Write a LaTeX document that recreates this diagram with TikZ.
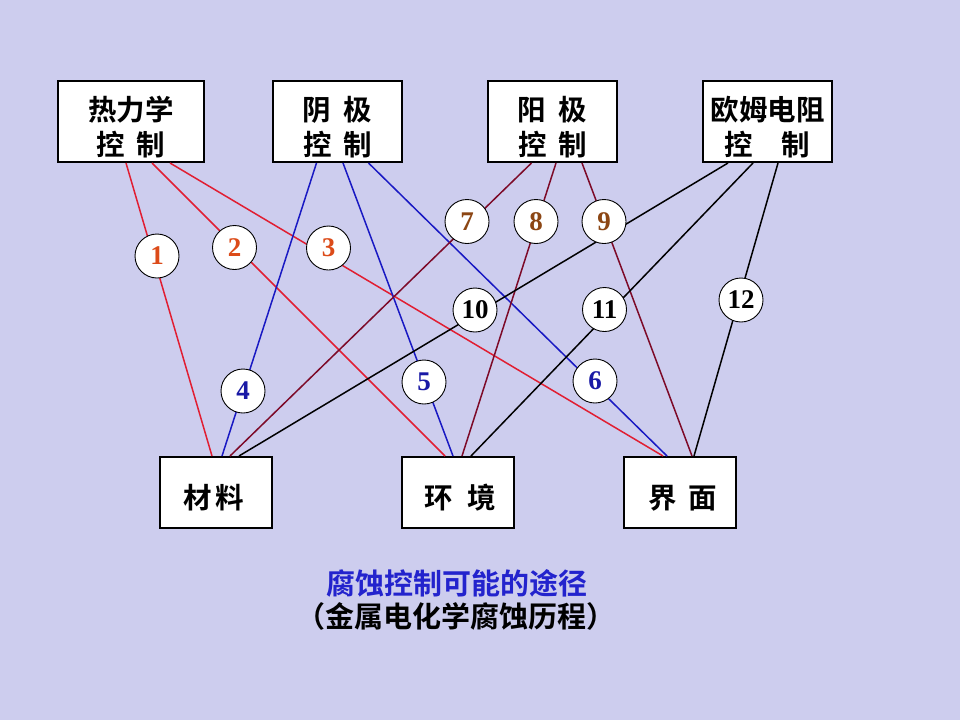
\documentclass[tikz,border=0pt]{standalone}
\usepackage{fontspec}
\setmainfont{Liberation Serif}
\newfontfamily\cjk{Noto Sans CJK SC Bold}
\definecolor{bgc}{RGB}{205,205,238}
\definecolor{cred}{RGB}{225,30,50}
\definecolor{cblue}{RGB}{25,25,195}
\definecolor{cmaroon}{RGB}{125,10,40}
\definecolor{nred}{RGB}{220,75,25}
\definecolor{nblue}{RGB}{25,25,165}
\definecolor{nbrown}{RGB}{140,70,20}
\definecolor{capblue}{RGB}{35,35,205}
\begin{document}
\begin{tikzpicture}[x=1pt,y=-1pt,
  boxshape/.style={draw=black,line width=2pt,fill=white,inner sep=0pt},
  topbox/.style={boxshape,minimum width=129pt,minimum height=81pt},
  botbox/.style={boxshape,minimum width=112pt,minimum height=71pt},
  boxtext/.style={inner sep=0pt,align=center,font=\cjk\fontsize{28.5}{35}\selectfont},
  numc/.style={circle,draw=black,line width=0.9pt,fill=white,minimum size=44pt,inner sep=0pt,font=\bfseries\fontsize{27}{27}\selectfont},
  redline/.style={draw=cred,line width=1.5pt},
  blueline/.style={draw=cblue,line width=1.5pt},
  maroonline/.style={draw=cmaroon,line width=1.5pt},
  blackline/.style={draw=black,line width=1.5pt},
  captext/.style={inner sep=0pt,font=\cjk\fontsize{29}{33}\selectfont}]
\fill[bgc] (0,0) rectangle (960,720);
\useasboundingbox (0,0) rectangle (960,720);
% top boxes
\node[topbox,minimum width=146pt] (th) at (131,121.5) {};
\node[topbox] (ca) at (337.5,121.5) {};
\node[topbox] (an) at (552.5,121.5) {};
\node[topbox] (oh) at (767.5,121.5) {};
\node[boxtext] (thT) at (131,127.5) {热力学\\控\hspace{0.42em}制};
\node[boxtext] (caT) at (337.5,127.5) {阴\hspace{0.45em}极\\控\hspace{0.42em}制};
\node[boxtext] (anT) at (552.5,127.5) {阳\hspace{0.45em}极\\控\hspace{0.42em}制};
\node[boxtext] (ohT) at (767.5,127.5) {欧姆电阻\\控\hspace{1em}制};
% bottom boxes
\node[botbox] (ma) at (216,492.5) {};
\node[botbox] (en) at (458,492.5) {};
\node[botbox] (if) at (680,492.5) {};
\node[boxtext] (maT) at (214,498) {材\hspace{0.12em}料};
\node[boxtext] (enT) at (460,498) {环\hspace{0.5em}境};
\node[boxtext] (ifT) at (683,498) {界\hspace{0.4em}面};
% connectors
\draw[redline] ([xshift=-5pt]th.south) -- ([xshift=-4pt]ma.north);
\draw[redline] ([xshift=21pt]th.south) -- ([xshift=-13pt]en.north);
\draw[redline] ([xshift=39pt]th.south) -- ([xshift=-17pt]if.north);
\draw[blueline] ([xshift=-21pt]ca.south) -- ([xshift=6pt]ma.north);
\draw[blueline] ([xshift=5.5pt]ca.south) -- ([xshift=-5pt]en.north);
\draw[blueline] ([xshift=31pt]ca.south) -- ([xshift=-13pt]if.north);
\draw[maroonline] ([xshift=-21pt]an.south) -- ([xshift=14pt]ma.north);
\draw[maroonline] ([xshift=3.5pt]an.south) -- ([xshift=4pt]en.north);
\draw[maroonline] ([xshift=29.5pt]an.south) -- ([xshift=12pt]if.north);
\draw[blackline] ([xshift=-39.5pt]oh.south) -- ([xshift=23pt]ma.north);
\draw[blackline] ([xshift=-14.5pt]oh.south) -- ([xshift=13pt]en.north);
\draw[blackline] ([xshift=10.5pt]oh.south) -- ([xshift=14pt]if.north);
% number circles
\node[numc,text=nred] (n1) at (157,256) {1};
\node[numc,text=nred] (n2) at (234.5,247.5) {2};
\node[numc,text=nred] (n3) at (328.5,248) {3};
\node[numc,text=nblue] (n4) at (243,391) {4};
\node[numc,text=nblue] (n5) at (424,382) {5};
\node[numc,text=nblue] (n6) at (595,381) {6};
\node[numc,text=nbrown] (n7) at (467,221.5) {7};
\node[numc,text=nbrown] (n8) at (536,221.5) {8};
\node[numc,text=nbrown] (n9) at (604,221.5) {9};
\node[numc] (n10) at (475,310) {10};
\node[numc] (n11) at (604.5,309.5) {11};
\node[numc] (n12) at (741,300) {12};
% caption
\node[captext,text=capblue] (cap1) at (457,583) {腐蚀控制可能的途径};
\node[captext] (cap2) at (456,616) {（金属电化学腐蚀历程）};
\end{tikzpicture}
\end{document}
